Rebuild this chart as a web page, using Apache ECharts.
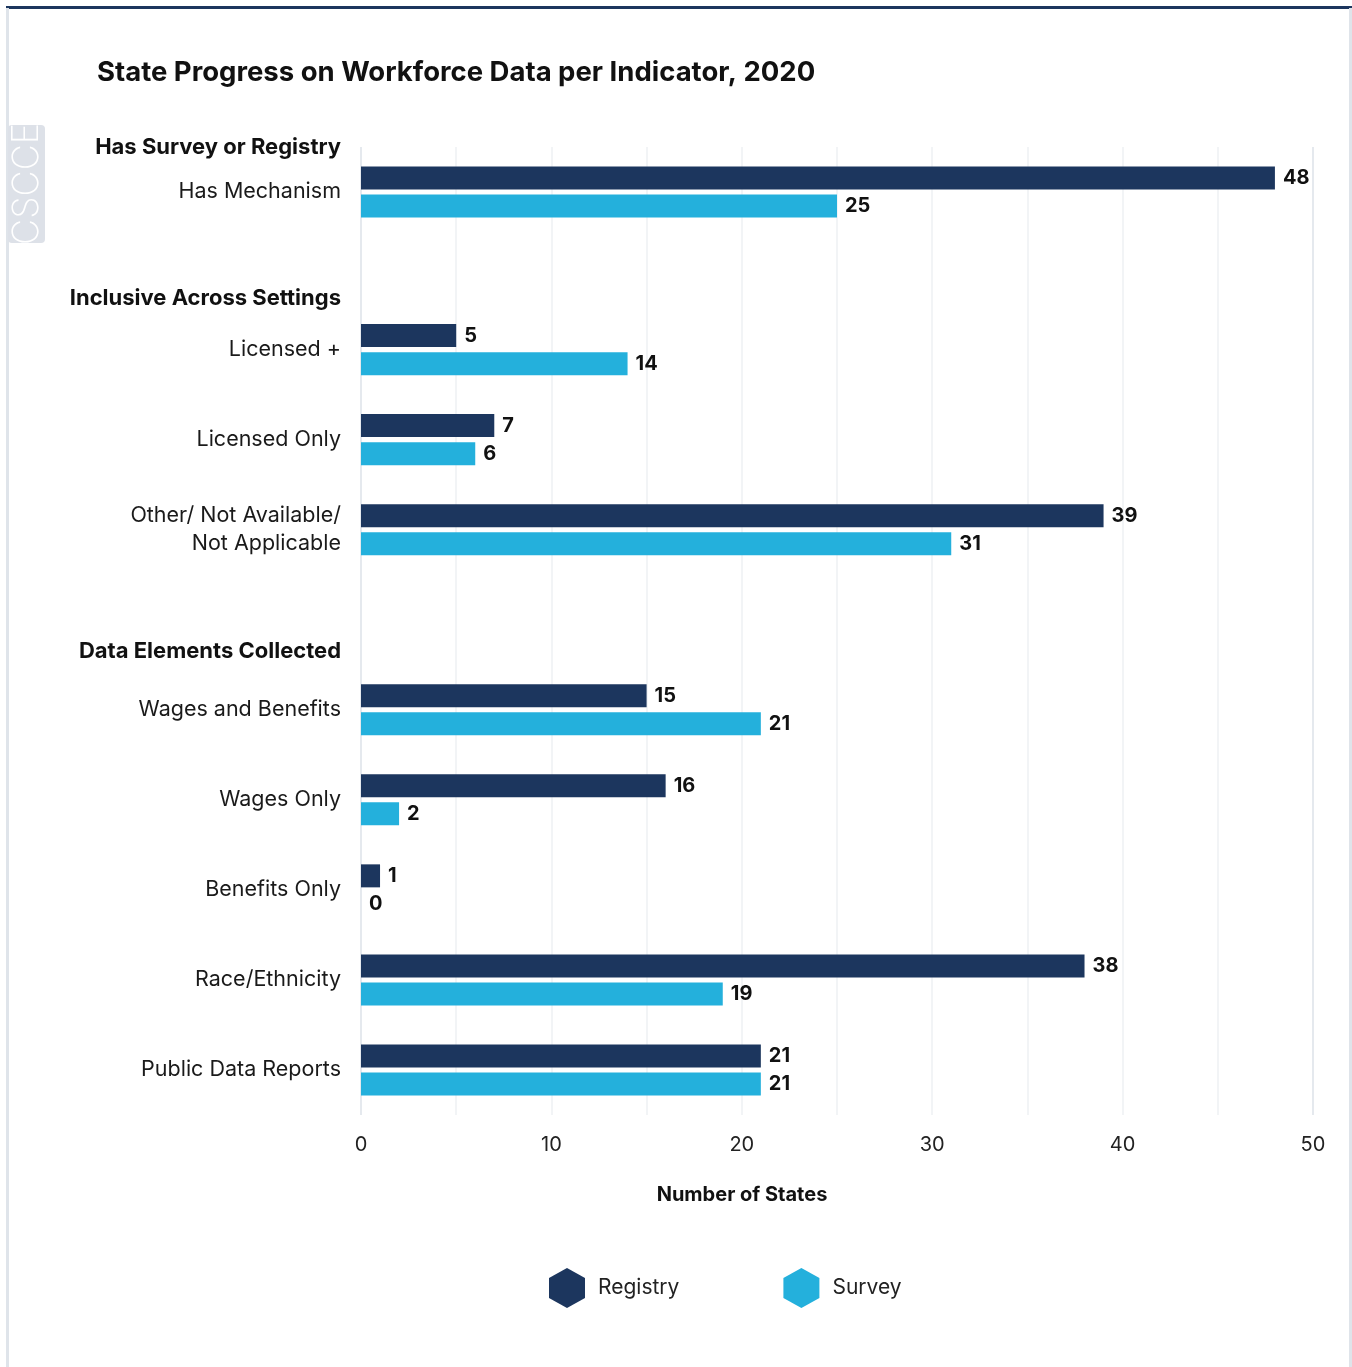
<!DOCTYPE html>
<html>
<head>
<meta charset="utf-8">
<script src="https://cdn.jsdelivr.net/npm/echarts@6/dist/echarts.min.js"></script>
<style>
  html, body { margin: 0; padding: 0; background: #fff; }
  #chart { width: 1352px; height: 1367px; }
</style>
</head>
<body>
<div id="chart"></div>
<script>
// data
const groupTitles = ['Has Survey or Registry', 'Inclusive Across Settings', 'Data Elements Collected']
const groupSizes = [1, 3, 5]
const indicators = [
  'Has Mechanism',
  'Licensed +', 'Licensed Only', 'Other/ Not Available/\nNot Applicable',
  'Wages and Benefits', 'Wages Only', 'Benefits Only', 'Race/Ethnicity', 'Public Data Reports'
]
const registry = [48, 5, 7, 39, 15, 16, 1, 38, 21]
const survey = [25, 14, 6, 31, 21, 2, 0, 19, 21]
const xTicks = [0, 10, 20, 30, 40, 50]

const NAVY = '#1c365e'
const CYAN = '#24b0dc'
const FONT = 'Inter, "Noto Sans", sans-serif'

// slot layout on the category axis: header, spacer, item, 3 spacers, item ...
const STEP = 4
const tailGaps = [4, 5, 2]
const slots = []
let item = 0
groupTitles.forEach((title, g) => {
  slots.push({ kind: 'head', text: title, g })
  slots.push({ kind: 'blank' })
  for (let k = 0; k < groupSizes[g]; k++) {
    if (k > 0) for (let b = 0; b < STEP - 1; b++) slots.push({ kind: 'blank' })
    slots.push({ kind: 'item', text: indicators[item], i: item })
    item++
  }
  for (let b = 0; b < tailGaps[g]; b++) slots.push({ kind: 'blank' })
})
const slotIds = slots.map((s, i) => 's' + i)
const pick = arr => slots.map(s => (s.kind === 'item' ? arr[s.i] : '-'))

const chart = echarts.init(document.getElementById('chart'))
// pointy-top hexagon, a bit taller than wide
const hexPath = 'path://M45,0 L90,25 L90,75 L45,100 L0,75 L0,25 Z'

const barLabel = {
  show: true, position: 'right', distance: 8,
  fontFamily: FONT, fontSize: 20, fontWeight: 'bold', color: '#111'
}
const headStyle = pad => ({
  fontFamily: FONT, fontSize: 22, fontWeight: 'bold', color: '#111', padding: pad
})

chart.setOption({
  backgroundColor: '#fff',
  animation: false,
  textStyle: { fontFamily: FONT },
  title: {
    text: 'State Progress on Workforce Data per Indicator, 2020',
    left: 92, top: 54,
    textStyle: { fontFamily: FONT, fontSize: 27.5, fontWeight: 'bold', color: '#111' }
  },
  legend: {
    bottom: 54, left: 544,
    itemWidth: 36, itemHeight: 40, itemGap: 104,
    icon: hexPath,
    textStyle: { fontFamily: FONT, fontSize: 21, color: '#222', padding: [0, 0, 0, 8] },
    data: ['Registry', 'Survey']
  },
  grid: { left: 361, right: 39, top: 147, bottom: 252 },
  xAxis: {
    type: 'value', min: 0, max: 50, interval: 5,
    name: 'Number of States', nameLocation: 'middle', nameGap: 70,
    nameTextStyle: {
      fontFamily: FONT, fontSize: 20, fontWeight: 'bold', color: '#111',
      padding: [0, 190, 0, 0]
    },
    axisLine: { show: false }, axisTick: { show: false },
    axisLabel: {
      margin: 20, fontSize: 20, color: '#222',
      formatter: v => (xTicks.includes(v) ? String(v) : '')
    },
    splitLine: {
      lineStyle: {
        width: 1.5,
        color: ['#dde2e9', '#eef0f3', '#eef0f3', '#eef0f3', '#eef0f3', '#eef0f3', '#eef0f3', '#eef0f3', '#eef0f3', '#eef0f3']
      }
    }
  },
  yAxis: {
    type: 'category', inverse: true, boundaryGap: false,
    data: slotIds,
    axisLine: { show: false }, axisTick: { show: false },
    axisLabel: {
      interval: 0, margin: 20, fontSize: 21.5, color: '#1a1a1a', lineHeight: 28,
      formatter: (v, idx) => {
        const s = slots[idx]
        if (s.kind === 'head') return '{h' + s.g + '|' + s.text + '}'
        if (s.kind === 'item') return s.text
        return ''
      },
      rich: {
        h0: headStyle([0, 0, 0, 0]),
        h1: headStyle([0, 0, 12, 0]),
        h2: headStyle([0, 0, 26, 0])
      }
    },
    splitLine: { show: false }
  },
  series: [
    {
      name: 'Registry', type: 'bar', data: pick(registry),
      barWidth: 23, barGap: '22%',
      itemStyle: { color: NAVY },
      label: barLabel
    },
    {
      name: 'Survey', type: 'bar', data: pick(survey),
      barWidth: 23,
      itemStyle: { color: CYAN },
      label: barLabel
    }
  ],
  graphic: [
    { type: 'rect', shape: { x: 6, y: 6, width: 1346, height: 3 }, style: { fill: NAVY } },
    { type: 'rect', shape: { x: 6, y: 8, width: 3, height: 1359 }, style: { fill: '#dfe4ea' } },
    { type: 'rect', shape: { x: 1349, y: 8, width: 3, height: 1359 }, style: { fill: '#dfe4ea' } },
    { type: 'rect', shape: { x: 8, y: 125, width: 37, height: 118, r: 4 }, style: { fill: '#dde1e8' } },
    {
      type: 'text', x: 27, y: 184, rotation: Math.PI / 2,
      style: {
        text: 'CSCCE', fill: '#fff', font: '200 36px ' + FONT,
        align: 'center', verticalAlign: 'middle'
      }
    }
  ]
})
</script>
</body>
</html>
